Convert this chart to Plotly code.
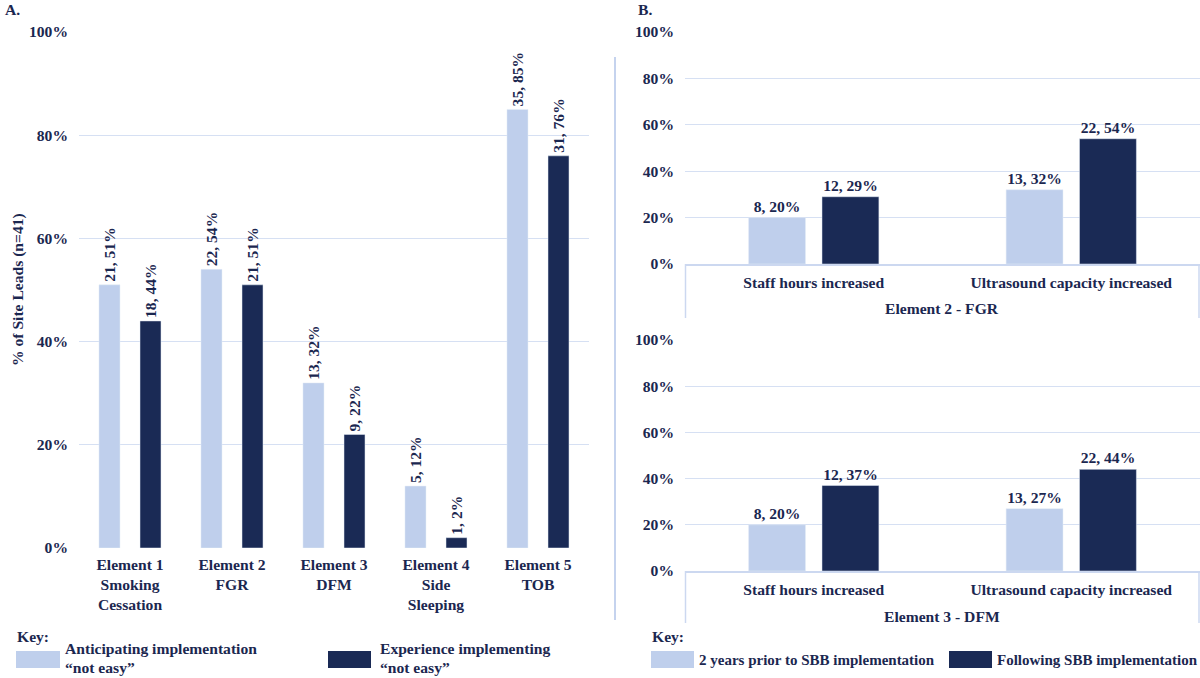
import plotly.graph_objects as go

W, H = 1200, 678
def px(x): return x / W
def py(y): return 1 - y / H

# ---- data ----
a_categories = ["Element 1<br>Smoking<br>Cessation", "Element 2<br>FGR", "Element 3<br>DFM",
                "Element 4<br>Side<br>Sleeping", "Element 5<br>TOB"]
a_anticip_n = [21, 22, 13, 5, 35]
a_anticip_pct = [51, 54, 32, 12, 85]
a_exper_n = [18, 21, 9, 1, 31]
a_exper_pct = [44, 51, 22, 2, 76]

b_categories = ["Staff hours increased", "Ultrasound capacity increased"]
b_fgr_prior_n = [8, 13]
b_fgr_prior_pct = [20, 32]
b_fgr_after_n = [12, 22]
b_fgr_after_pct = [29, 54]
b_dfm_prior_n = [8, 13]
b_dfm_prior_pct = [20, 27]
b_dfm_after_n = [12, 22]
b_dfm_after_pct = [37, 44]

LIGHT = "#BFCFEC"
DARK = "#1A2A55"
TXT = "#1B2750"
GRID = "#D6E0F3"
FONT = "Liberation Serif"
FS = 15.6

def labels(ns, ps):
    return [f"{n}, {p}%" for n, p in zip(ns, ps)]

fig = go.Figure()
lblfont = dict(size=FS, color=TXT, family=FONT, weight="bold")

# Panel A
fig.add_trace(go.Bar(x=a_categories, y=[p / 100 for p in a_anticip_pct], marker_color=LIGHT,
                     width=0.206, offset=-0.304, text=labels(a_anticip_n, a_anticip_pct),
                     textposition="outside", textangle=-90, constraintext="none", cliponaxis=False,
                     textfont=lblfont, xaxis="x", yaxis="y", showlegend=False))
fig.add_trace(go.Bar(x=a_categories, y=[p / 100 for p in a_exper_pct], marker_color=DARK,
                     width=0.206, offset=0.098, text=labels(a_exper_n, a_exper_pct),
                     textposition="outside", textangle=-90, constraintext="none", cliponaxis=False,
                     textfont=lblfont, xaxis="x", yaxis="y", showlegend=False))

# Panel B top (FGR) and bottom (DFM)
for (pn, pp, an, ap, xa, ya) in [(b_fgr_prior_n, b_fgr_prior_pct, b_fgr_after_n, b_fgr_after_pct, "x2", "y2"),
                                  (b_dfm_prior_n, b_dfm_prior_pct, b_dfm_after_n, b_dfm_after_pct, "x3", "y3")]:
    fig.add_trace(go.Bar(x=b_categories, y=[p / 100 for p in pp], marker_color=LIGHT,
                         width=0.221, offset=-0.253, text=labels(pn, pp),
                         textposition="outside", textangle=0, constraintext="none", cliponaxis=False,
                         textfont=lblfont, xaxis=xa, yaxis=ya, showlegend=False))
    fig.add_trace(go.Bar(x=b_categories, y=[p / 100 for p in ap], marker_color=DARK,
                         width=0.221, offset=0.032, text=labels(an, ap),
                         textposition="outside", textangle=0, constraintext="none", cliponaxis=False,
                         textfont=lblfont, xaxis=xa, yaxis=ya, showlegend=False))

tickfont = dict(size=FS, color=TXT, family=FONT, weight="bold")
yax = dict(range=[0, 1], tickvals=[0, 0.2, 0.4, 0.6, 0.8, 1.0], tickformat=".0%",
           showgrid=True, gridcolor=GRID, gridwidth=1, zeroline=False, showline=False,
           ticks="", tickfont=tickfont, ticklabelstandoff=10, fixedrange=True)
xax = dict(showgrid=False, zeroline=False, ticks="", tickfont=tickfont, fixedrange=True)

fig.update_layout(
    width=W, height=H, margin=dict(l=0, r=0, t=0, b=0, autoexpand=False),
    paper_bgcolor="white", plot_bgcolor="white",
    font=dict(family=FONT, color=TXT, size=FS, weight="bold"),
    barmode="overlay",
    xaxis=dict(xax, domain=[px(79), px(589)], anchor="y", range=[-0.5, 4.5], ticklabelstandoff=5),
    yaxis=dict(yax, domain=[py(548), py(32)], anchor="x"),
    xaxis2=dict(xax, domain=[px(685), px(1200)], anchor="y2", range=[-0.5, 1.5],
                showline=True, linecolor="#CCD8F0", linewidth=1.5, ticklabelstandoff=4),
    yaxis2=dict(yax, domain=[py(264), py(32)], anchor="x2"),
    xaxis3=dict(xax, domain=[px(685), px(1200)], anchor="y3", range=[-0.5, 1.5],
                showline=True, linecolor="#CCD8F0", linewidth=1.5, ticklabelstandoff=4),
    yaxis3=dict(yax, domain=[py(571), py(340)], anchor="x3"),
)

shapes = []
boxc = "#CCD8F0"
# multi-level axis box lines panel B
for (y0, y1) in [(264, 318), (571, 623)]:
    for x in [685.5, 1199]:
        shapes.append(dict(type="line", xref="paper", yref="paper", x0=px(x), x1=px(x),
                           y0=py(y0), y1=py(y1), line=dict(color=boxc, width=1.5)))
# separator line
shapes.append(dict(type="line", xref="paper", yref="paper", x0=px(615), x1=px(615),
                   y0=py(57), y1=py(620), line=dict(color="#C5D3EE", width=2)))
# legend swatches
for (x0, x1, c) in [(16, 60, LIGHT), (328, 371, DARK), (651, 694, LIGHT), (949, 992, DARK)]:
    shapes.append(dict(type="rect", xref="paper", yref="paper", x0=px(x0), x1=px(x1),
                       y0=py(668), y1=py(651), fillcolor=c, line=dict(width=0)))
fig.update_layout(shapes=shapes)

ann = []
def text(x, y, s, xanchor="left", size=FS, angle=0):
    ann.append(dict(xref="paper", yref="paper", x=px(x), y=py(y), text=s, showarrow=False,
                    xanchor=xanchor, yanchor="middle", textangle=angle,
                    font=dict(size=size, color=TXT, family=FONT, weight="bold")))

text(3, 9, "A.")
text(636, 9, "B.")
text(18, 290, "% of Site Leads (n=41)", xanchor="center", angle=-90)
text(942, 309, "Element 2 - FGR", xanchor="center")
text(942, 616, "Element 3 - DFM", xanchor="center")
text(15, 636, "Key:")
text(63, 648, "Anticipating implementation")
text(63, 667, "\u201cnot easy\u201d")
text(378, 648, "Experience implementing")
text(378, 667, "\u201cnot easy\u201d")
text(650, 636, "Key:")
text(697, 660, "2 years prior to SBB implementation", size=15)
text(995, 660, "Following SBB implementation", size=15)
fig.update_layout(annotations=ann)

fig.write_html("out.html")
